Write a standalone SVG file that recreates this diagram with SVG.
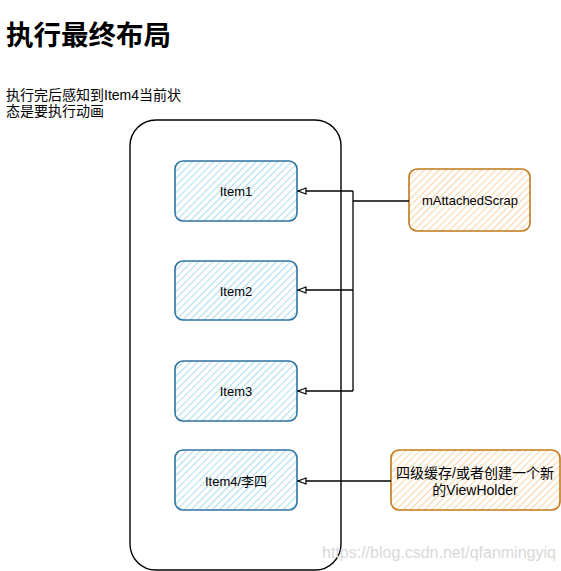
<svg xmlns="http://www.w3.org/2000/svg" width="561" height="571" viewBox="0 0 561 571">
<style>
text{font-family:"Liberation Sans","Noto Sans CJK SC",sans-serif;fill:#000}
.lbl{font-size:13px;text-anchor:middle}
.blue{fill:url(#hb);stroke:#2f73a0;stroke-width:1.6}
.orange{fill:url(#ho);stroke:#c07a1a;stroke-width:1.6}
.ln{fill:none;stroke:#000;stroke-width:1.3}
</style>
<defs>
<pattern id="hb" width="5" height="5" patternUnits="userSpaceOnUse" patternTransform="rotate(45)">
<rect width="5" height="5" fill="#fff"/>
<line x1="0" y1="0" x2="0" y2="5" stroke="#b1ddf0" stroke-width="2.2"/>
</pattern>
<pattern id="ho" width="5" height="5" patternUnits="userSpaceOnUse" patternTransform="rotate(45)">
<rect width="5" height="5" fill="#fff"/>
<line x1="0" y1="0" x2="0" y2="5" stroke="#fad7ac" stroke-width="2.2"/>
</pattern>
<marker id="arr" markerWidth="10" markerHeight="8" refX="9" refY="4" orient="auto" markerUnits="userSpaceOnUse">
<path d="M1,1 L9,4 L1,7 Z" fill="#fff" stroke="#000" stroke-width="1.2"/>
</marker>
</defs>
<g id="title">
<text x="6" y="45" style="font-size:27.5px;font-weight:bold">执行最终布局</text>
<text x="6" y="100" style="font-size:14px">执行完后感知到Item4当前状</text>
<text x="6" y="116" style="font-size:14px">态是要执行动画</text>
</g>
<g id="container">
<rect x="130" y="120" width="211" height="450" rx="26" fill="none" stroke="#000" stroke-width="1.4"/>
</g>
<g id="item1"><rect class="blue" x="175" y="161" width="122" height="60" rx="8"/><text class="lbl" x="236" y="196">Item1</text></g>
<g id="item2"><rect class="blue" x="175" y="261" width="122" height="59" rx="8"/><text class="lbl" x="236" y="296">Item2</text></g>
<g id="item3"><rect class="blue" x="175" y="361" width="122" height="60" rx="8"/><text class="lbl" x="236" y="396">Item3</text></g>
<g id="item4"><rect class="blue" x="175" y="450" width="122" height="60" rx="8"/><text class="lbl" x="236" y="486">Item4/李四</text></g>
<g id="scrap"><rect class="orange" x="409" y="169" width="121" height="62" rx="8"/><text class="lbl" x="470" y="205">mAttachedScrap</text></g>
<g id="newvh"><rect class="orange" x="391" y="450" width="169" height="60" rx="8"/><text class="lbl" x="475" y="478" style="font-size:14px">四级缓存/或者创建一个新</text><text class="lbl" x="475" y="495" style="font-size:14px">的ViewHolder</text></g>
<g id="connectors">
<path class="ln" d="M409,201 L353,201" stroke-width="2"/>
<path class="ln" d="M353,191 L353,391"/>
<path class="ln" d="M353,191 L298,191" marker-end="url(#arr)"/>
<path class="ln" d="M353,290 L298,290" marker-end="url(#arr)"/>
<path class="ln" d="M353,391 L298,391" marker-end="url(#arr)"/>
<path class="ln" d="M391,481 L298,481" marker-end="url(#arr)"/>
</g>
<g id="watermark"><text x="322" y="558" style="font-size:16px;fill:#d9d9d9">https://blog.csdn.net/qfanmingyiq</text></g>
</svg>
